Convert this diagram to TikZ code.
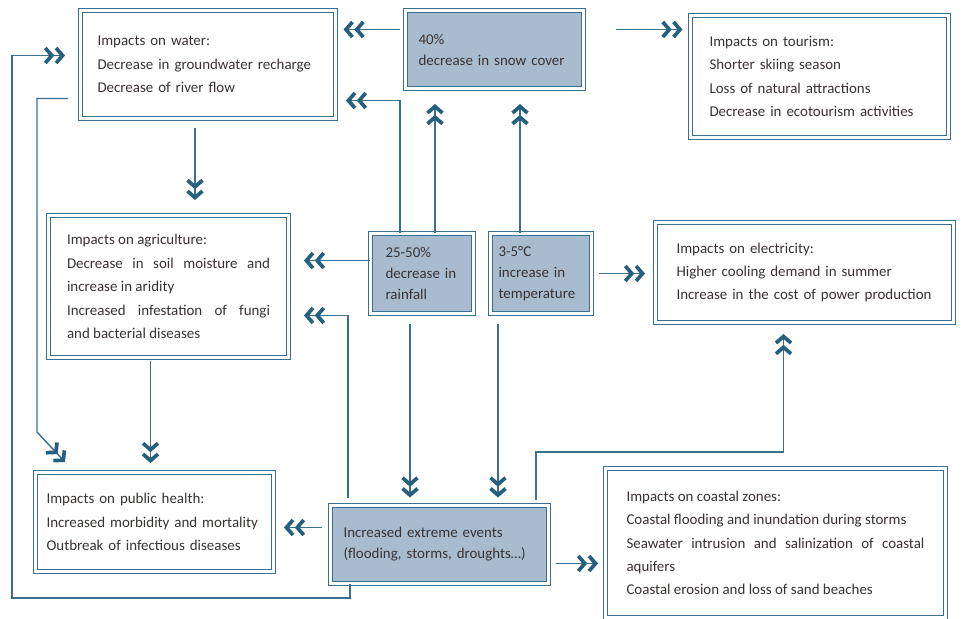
\documentclass[tikz,border=0pt]{standalone}
\usepackage{fontspec}
\setmainfont{Carlito}
\usetikzlibrary{arrows.meta, calc}
\definecolor{lineBlue}{HTML}{3A6F8F}
\definecolor{tipBlue}{HTML}{26607F}
\definecolor{boxFill}{HTML}{A9BCCF}
\definecolor{textGrey}{HTML}{3A3131}
\tikzset{
  impact/.style = {
    draw=lineBlue,
    double,
    double distance=1.4pt,
    line width=.6pt,
    anchor=north west,
    align=left,
    text=textGrey,
    font=\fontsize{8.5}{13.3}\selectfont,
    inner xsep=.36cm,
  },
  driver/.style = {
    impact,
    fill=boxFill,
    font=\fontsize{8.5}{11.9}\selectfont,
  },
  goes/.style = {
    draw=lineBlue,
    line width=.8pt,
    -{Straight Barb[length=1.3mm, width=3mm, line width=2.1pt, color=tipBlue]
      Straight Barb[length=1.3mm, width=3mm, line width=2.1pt, color=tipBlue]},
    shorten >=.15cm,
  },
}

\begin{document}
\begin{tikzpicture}[x=.02cm, y=-.02cm]
\useasboundingbox (0,0) rectangle (971,619);

\node(Water)[impact, minimum height=2.16cm, text width=4.42cm, inner xsep=.34cm] at (80,10)
  {Impacts on water:\\Decrease in groundwater recharge\\Decrease of river flow};
\node(Snow)[driver, minimum height=1.56cm, text width=3.04cm, inner xsep=.26cm] at (405,10)
  {40\%\\decrease in snow cover};
\node(Tourism)[impact, minimum height=2.44cm, text width=4.4cm, inner xsep=.38cm] at (690,15)
  {Impacts on tourism:\\Shorter skiing season\\Loss of natural attractions\\Decrease in ecotourism activities};
\node(Agri)[impact, align=justify, minimum height=2.84cm, text width=4.06cm, inner xsep=.37cm] at (48,215)
  {Impacts on agriculture:\\Decrease in soil moisture and\linebreak increase in aridity\\Increased infestation of fungi\linebreak and bacterial diseases};
\node(Rain)[driver, minimum height=1.6cm, text width=1.46cm, inner xsep=.3cm] at (370,233)
  {25-50\%\\decrease in\\rainfall};
\node(Temp)[driver, minimum height=1.6cm, text width=1.7cm, inner xsep=.16cm] at (490,233)
  {3-5°C\\increase in\\temperature};
\node(Elec)[impact, minimum height=2cm, text width=5.12cm, inner xsep=.42cm] at (655,222)
  {Impacts on electricity:\\Higher cooling demand in summer\\Increase in the cost of power production};
\node(Health)[impact, minimum height=1.98cm, text width=4.32cm, inner xsep=.22cm] at (35,472)
  {Impacts on public health:\\Increased morbidity and mortality\\Outbreak of infectious diseases};
\node(Extreme)[driver, minimum height=1.56cm, text width=3.84cm, inner xsep=.26cm] at (330,505)
  {Increased extreme events\\(flooding, storms, droughts…)};
\node(Coastal)[impact, align=justify, minimum height=2.98cm, text width=5.96cm, inner xsep=.42cm] at (605,468)
  {Impacts on coastal zones:\\Coastal flooding and inundation during storms\\Seawater intrusion and salinization of coastal\linebreak aquifers\\Coastal erosion and loss of sand beaches};

\draw[goes, shorten <=.1cm] ([yshift=.4cm]Snow.west) -- ([yshift=.4cm]Snow.west -| Water.east);
\draw[goes, shorten <=.64cm] ([yshift=.4cm]Snow.east) -- ([yshift=.4cm]Snow.east -| Tourism.west);

\draw[goes, shorten >=.2cm] ([xshift=.6cm]Rain.north west) |- ([yshift=-.72cm]Water.east);
\draw[goes, shorten >=.3cm] ([xshift=1.3cm]Rain.north west) -- ([xshift=1.3cm]Rain.north west |- Snow.south);
\draw[goes, shorten >=.3cm] ([xshift=.6cm]Temp.north west) -- ([xshift=.6cm]Temp.north west |- Snow.south);

\draw[goes, shorten <=.18cm, shorten >=.3cm] ([xshift=2.3cm]Water.south west) -- ([xshift=2.3cm]Water.south west |- Agri.north);
\draw[goes, shorten >=.3cm] ([yshift=.26cm]Rain.west) -- ([yshift=.26cm]Rain.west -| Agri.east);
\draw[goes, shorten <=.14cm, shorten >=.2cm] (Temp.east) -- (Temp.east -| Elec.west);

\draw[goes, shorten <=.2cm] ([xshift=.8cm]Rain.south west) -- ([xshift=.8cm]Rain.south west |- Extreme.north);
\draw[goes, shorten <=.2cm] ([xshift=.16cm]Temp.south west) -- ([xshift=.16cm]Temp.south west |- Extreme.north);

\draw[goes, shorten <=.14cm, shorten >=.3cm] ([xshift=.36cm]Extreme.north west) |- ([yshift=-.58cm]Agri.east);
\draw[goes, shorten <=.16cm, shorten >=.2cm] ([yshift=.34cm]Extreme.west) -- ([yshift=.34cm]Extreme.west -| Health.east);
\draw[goes, shorten <=.14cm, shorten >=.14cm] ([yshift=-.38cm]Extreme.east) -- ([yshift=-.38cm]Extreme.east -| Coastal.west);
\draw[goes, shorten <=.1cm, shorten >=.22cm] ([xshift=-.26cm]Extreme.north east) -- ++(0,-53) -| ([xshift=-.42cm]Elec.south);

\draw[goes, shorten <=.06cm, shorten >=.18cm] ([xshift=-.36cm]Agri.south) -- ([xshift=-.36cm]Agri.south |- Health.north);
\draw[goes, shorten <=.24cm, shorten >=0pt] ([yshift=-.68cm]Water.west) -| (37,432) -- ([xshift=.6cm, yshift=.2cm]Health.north west);
\draw[goes, shorten >=.3cm] ([xshift=.4cm]Extreme.south west) |- (12,598) |- ([yshift=.18cm]Water.west);

\end{tikzpicture}
\end{document}
